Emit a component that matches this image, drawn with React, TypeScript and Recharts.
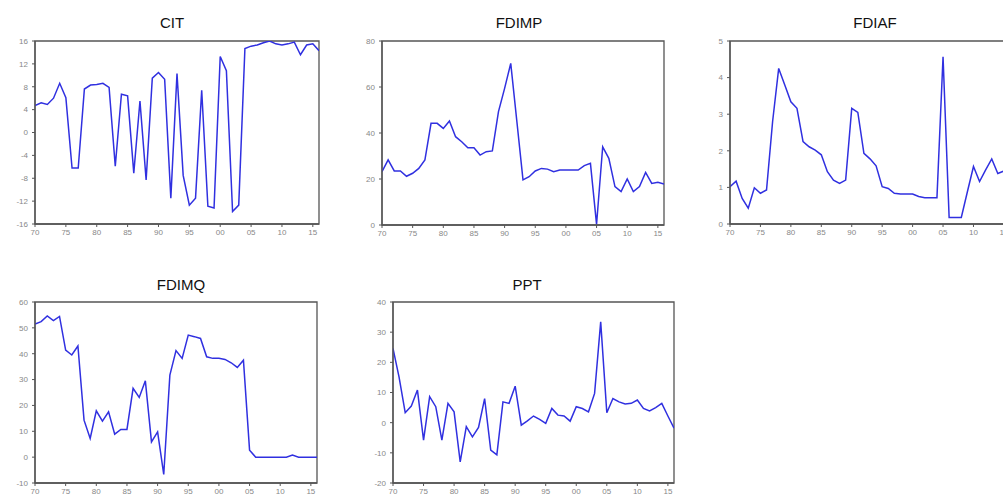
import React from 'react';
import { LineChart, Line, XAxis, YAxis, ReferenceArea } from 'recharts';

const years = [
  1970, 1971, 1972, 1973, 1974, 1975, 1976, 1977, 1978, 1979,
  1980, 1981, 1982, 1983, 1984, 1985, 1986, 1987, 1988, 1989,
  1990, 1991, 1992, 1993, 1994, 1995, 1996, 1997, 1998, 1999,
  2000, 2001, 2002, 2003, 2004, 2005, 2006, 2007, 2008, 2009,
  2010, 2011, 2012, 2013, 2014, 2015, 2016,
];

const cit = [
  4.7, 5.2, 4.9, 6.0, 8.6, 6.1, -6.2, -6.2, 7.6, 8.3,
  8.4, 8.6, 7.9, -5.9, 6.7, 6.4, -7.1, 5.5, -8.3, 9.5,
  10.5, 9.3, -11.5, 10.3, -7.5, -12.7, -11.5, 7.4, -12.9, -13.2,
  13.3, 10.8, -13.8, -12.7, 14.7, 15.1, 15.3, 15.7, 16.0, 15.5,
  15.3, 15.5, 15.8, 13.6, 15.3, 15.5, 14.3,
];

const fdimp = [
  23.2, 28.3, 23.5, 23.5, 21.2, 22.5, 24.6, 28.3, 44.2, 44.2,
  42, 45.2, 38.4, 36.2, 33.6, 33.6, 30.4, 31.9, 32.2, 49.3,
  59.4, 70.3, 45, 19.6, 21, 23.5, 24.6, 24.3, 23.2, 23.9,
  23.9, 23.9, 23.9, 25.8, 26.8, 0.3, 34, 29, 16.7, 14.5,
  20, 14.5, 16.7, 22.9, 18.1, 18.6, 17.8,
];

const fdiaf = [
  1.02, 1.17, 0.7, 0.43, 0.99, 0.84, 0.93, 2.8, 4.25, 3.8,
  3.34, 3.16, 2.25, 2.11, 2.02, 1.89, 1.43, 1.2, 1.11, 1.2,
  3.16, 3.05, 1.93, 1.78, 1.59, 1.02, 0.97, 0.84, 0.82, 0.82,
  0.82, 0.75, 0.72, 0.72, 0.72, 4.57, 0.18, 0.18, 0.18, 0.88,
  1.57, 1.16, 1.48, 1.78, 1.38, 1.45, 1.5,
];

const fdimq = [
  51.5, 52.4, 54.6, 52.8, 54.4, 41.4, 39.5, 43, 14.3, 7.2,
  17.9, 13.9, 17.5, 8.9, 10.7, 10.7, 26.6, 23.1, 29.5, 5.9,
  9.8, -6.7, 31.7, 41.2, 38.2, 47.2, 46.6, 45.9, 38.8, 38.2,
  38.2, 37.8, 36.5, 34.7, 37.5, 2.7, 0, 0, 0, 0,
  0, 0, 0.8, 0, 0, 0, 0,
];

const ppt = [
  24.6, 15, 3.3, 5.5, 10.8, -5.8, 8.6, 5.3, -5.8, 6.4,
  3.6, -13, -1.3, -4.7, -1.6, 8, -9.1, -10.7, 6.9, 6.4,
  12.1, -0.8, 0.6, 2.2, 1.1, -0.2, 4.7, 2.5, 2.2, 0.5,
  5.3, 4.7, 3.6, 9.7, 33.4, 3.3, 8, 6.9, 6.2, 6.4,
  7.5, 4.7, 3.9, 5, 6.4, 2.2, -1.8,
];

const xTicks = [1970, 1975, 1980, 1985, 1990, 1995, 2000, 2005, 2010, 2015];
const citTicks = [-16, -12, -8, -4, 0, 4, 8, 12, 16];
const fdimpTicks = [0, 20, 40, 60, 80];
const fdiafTicks = [0, 1, 2, 3, 4, 5];
const fdimqTicks = [-10, 0, 10, 20, 30, 40, 50, 60];
const pptTicks = [-20, -10, 0, 10, 20, 30, 40];

const data = years.map((year, i) => ({
  year,
  cit: cit[i],
  fdimp: fdimp[i],
  fdiaf: fdiaf[i],
  fdimq: fdimq[i],
  ppt: ppt[i],
}));

const fmtYear = (v: number) => String(v % 100).padStart(2, '0');

interface PanelProps {
  title: string;
  dataKey: string;
  ticks: number[];
  rect: { x: number; y: number; w: number; h: number };
  titleX: number;
  titleY: number;
}

const AXIS = '#555';
const LINE = '#3030e0';

const Panel: React.FC<PanelProps> = ({ title, dataKey, ticks, rect, titleX, titleY }) => {
  const L = 30, T = 8, R = 8, B = 22;
  const domain: [number, number] = [ticks[0], ticks[ticks.length - 1]];
  return (
    <>
      <div
        style={{
          position: 'absolute',
          left: titleX - 60,
          top: titleY,
          width: 120,
          textAlign: 'center',
          fontSize: 15,
          lineHeight: '15px',
          color: '#111',
        }}
      >
        {title}
      </div>
      <div style={{ position: 'absolute', left: rect.x - L, top: rect.y - T }}>
        <LineChart
          width={L + rect.w + R}
          height={T + rect.h + B}
          data={data}
          margin={{ top: T, right: R, bottom: 0, left: 0 }}
        >
          <XAxis
            type="number"
            dataKey="year"
            domain={[1970, 2016]}
            ticks={xTicks}
            interval={0}
            tickFormatter={fmtYear}
            tickSize={3}
            tickMargin={2}
            height={B}
            allowDataOverflow
            axisLine={{ stroke: AXIS, strokeWidth: 1.3 }}
            tickLine={{ stroke: AXIS }}
            tick={{ fontSize: 8, fill: '#888' }}
          />
          <YAxis
            type="number"
            domain={domain}
            ticks={ticks}
            interval={0}
            width={L}
            tickSize={3}
            tickMargin={4}
            allowDataOverflow
            axisLine={{ stroke: AXIS, strokeWidth: 1.3 }}
            tickLine={{ stroke: AXIS }}
            tick={{ fontSize: 8, fill: '#888' }}
          />
          <ReferenceArea
            x1={1970}
            x2={2016}
            y1={domain[0]}
            y2={domain[1]}
            fill="none"
            stroke={AXIS}
            strokeWidth={1.3}
          />
          <Line
            type="linear"
            dataKey={dataKey}
            stroke={LINE}
            strokeWidth={1.5}
            dot={false}
            isAnimationActive={false}
          />
        </LineChart>
      </div>
    </>
  );
};

export default function App() {
  return (
    <div
      style={{
        position: 'absolute',
        left: 0,
        top: 0,
        width: 1003,
        height: 504,
        overflow: 'hidden',
        background: '#fff',
        fontFamily: '"Liberation Sans", Arial, sans-serif',
      }}
    >
      <Panel title="CIT" dataKey="cit" ticks={citTicks} rect={{ x: 35, y: 41, w: 284, h: 183 }} titleX={172} titleY={15} />
      <Panel title="FDIMP" dataKey="fdimp" ticks={fdimpTicks} rect={{ x: 382, y: 41, w: 282, h: 184 }} titleX={519} titleY={15} />
      <Panel title="FDIAF" dataKey="fdiaf" ticks={fdiafTicks} rect={{ x: 730, y: 41, w: 280, h: 183 }} titleX={875} titleY={15} />
      <Panel title="FDIMQ" dataKey="fdimq" ticks={fdimqTicks} rect={{ x: 35, y: 302, w: 282, h: 181 }} titleX={181} titleY={277} />
      <Panel title="PPT" dataKey="ppt" ticks={pptTicks} rect={{ x: 393, y: 302, w: 281, h: 181 }} titleX={527} titleY={277} />
    </div>
  );
}
